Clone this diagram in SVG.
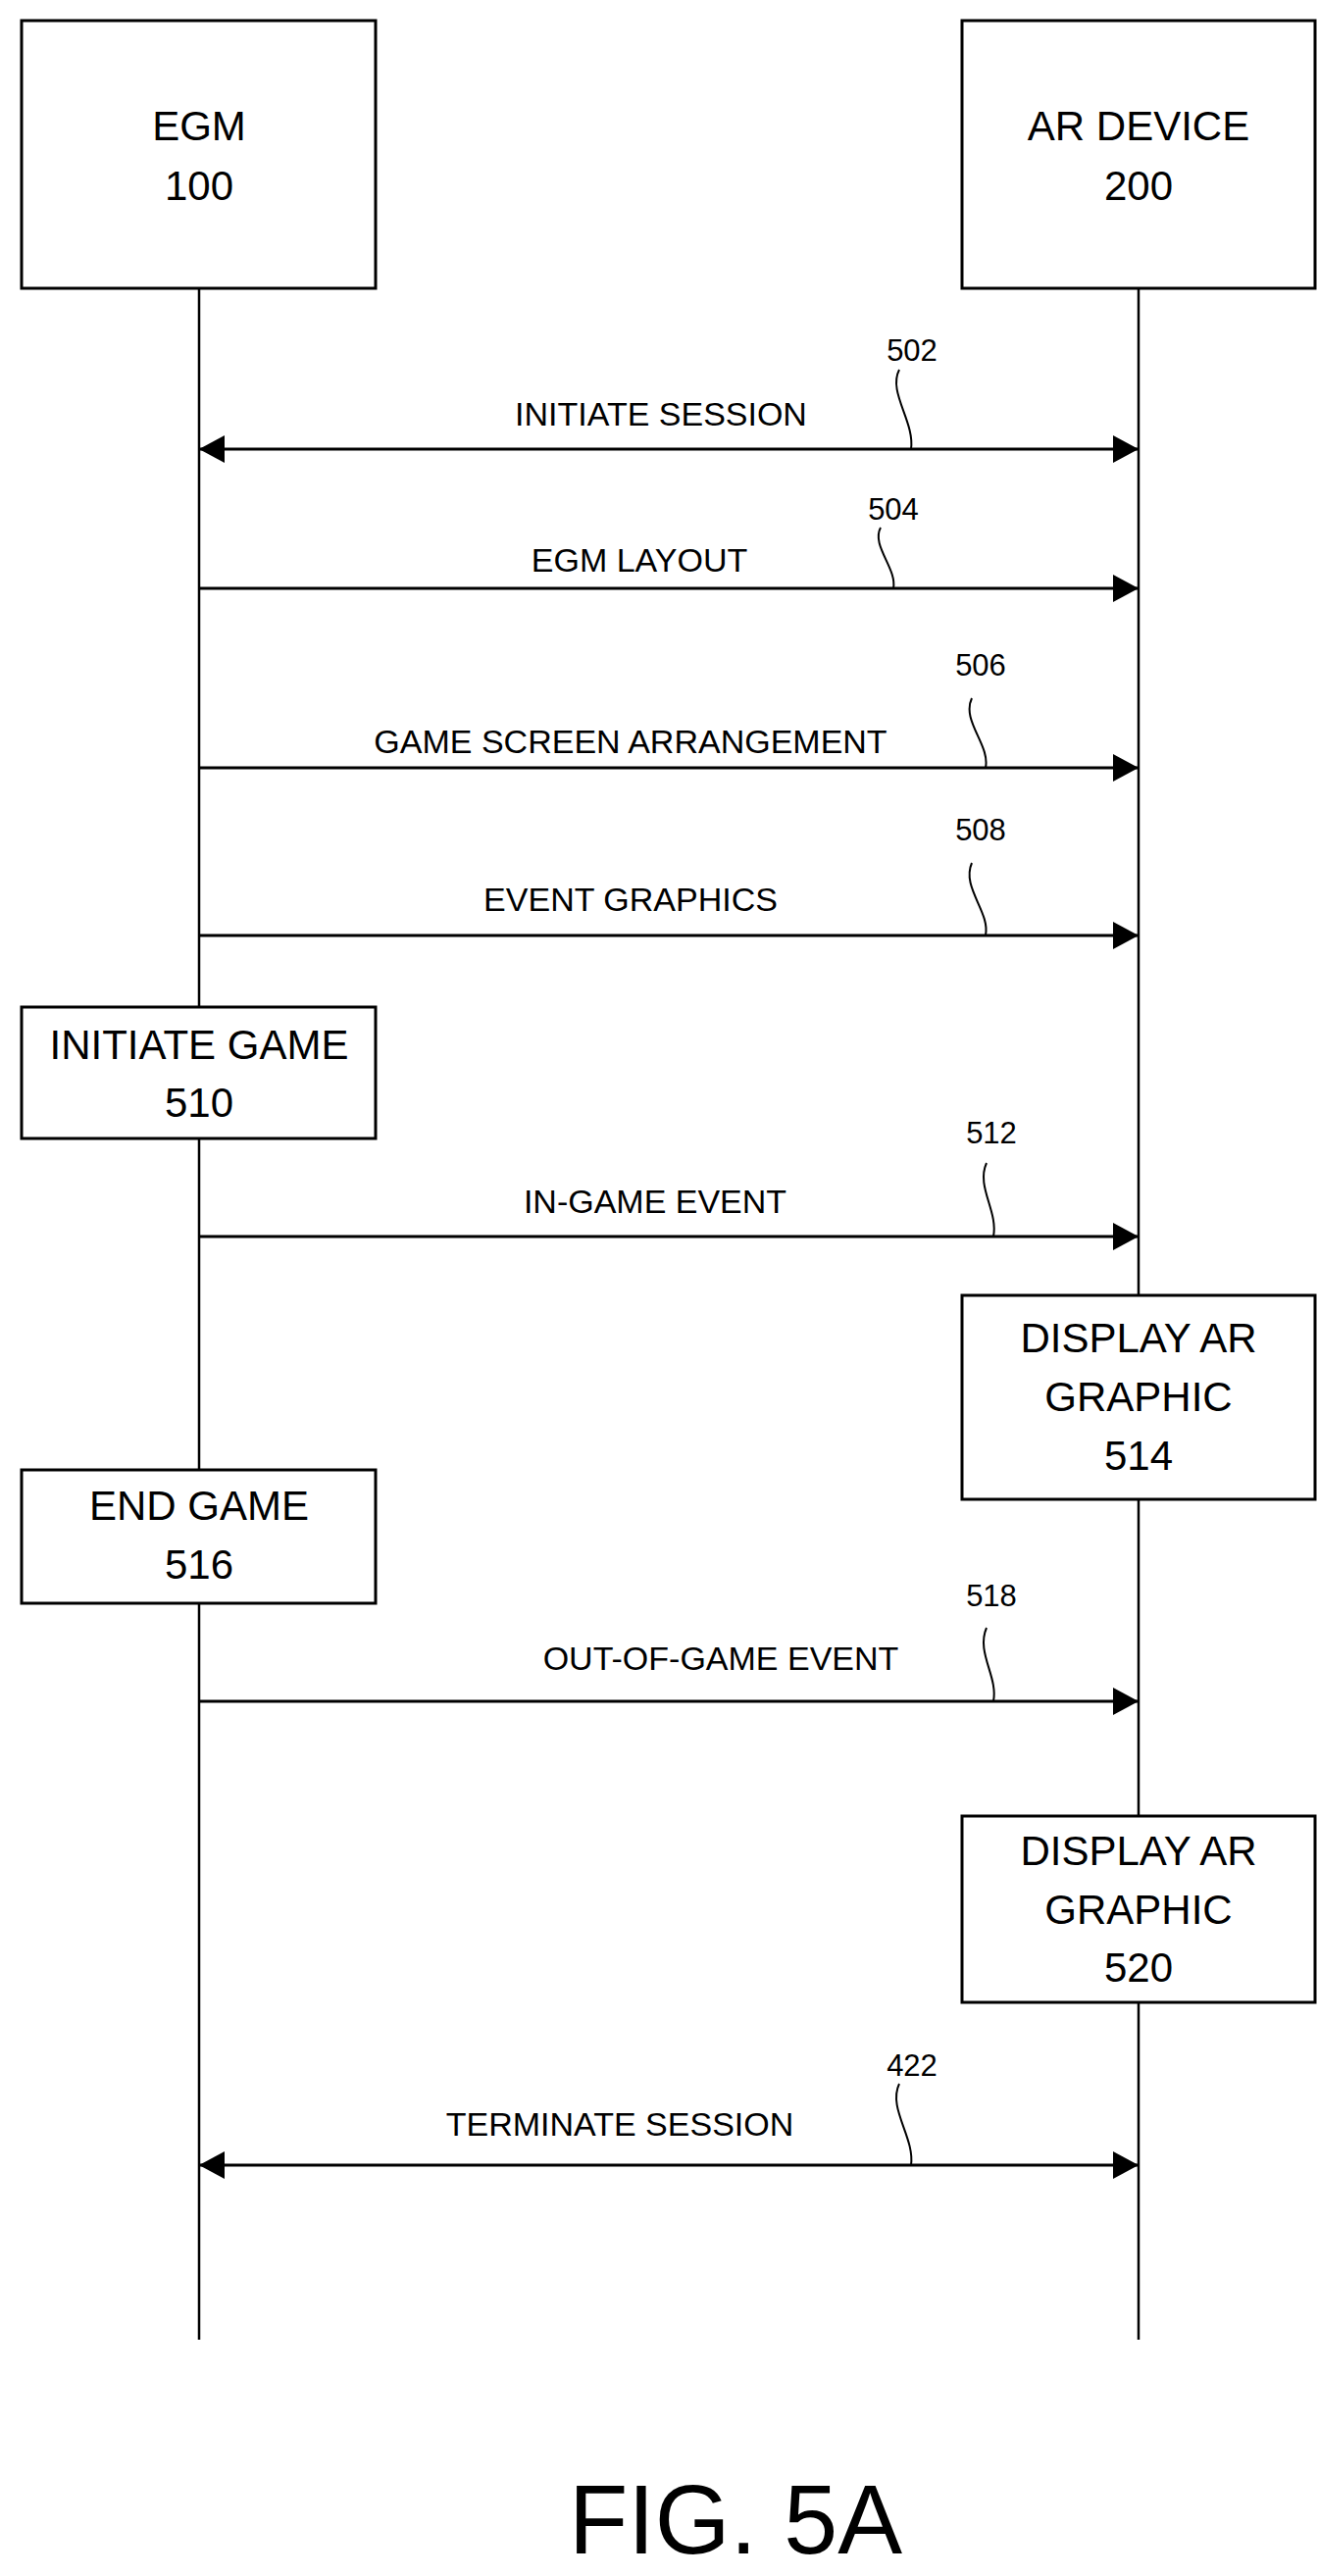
<svg xmlns="http://www.w3.org/2000/svg" width="1344" height="2627" viewBox="0 0 1344 2627">
<style>
rect{fill:#fff;stroke:#000;stroke-width:3}
.l{stroke:#000;stroke-width:2.5;fill:none}
.a{stroke:#000;stroke-width:3;fill:none}
.q{stroke:#000;stroke-width:2;fill:none}
text{font-family:"Liberation Sans",Arial,sans-serif;fill:#000;text-anchor:middle}
.b{font-size:42px}
.m{font-size:34px}
.n{font-size:31px}
</style>
<defs>
<marker id="h" markerWidth="28" markerHeight="28" refX="26" refY="14" orient="auto-start-reverse" markerUnits="userSpaceOnUse"><path d="M0,0L26,14L0,28Z" fill="#000"/></marker>
</defs>
<g id="lifelines">
<line class="l" x1="203" y1="294" x2="203" y2="2386"/>
<line class="l" x1="1161" y1="294" x2="1161" y2="2386"/>
</g>
<g id="egm"><rect x="22" y="21" width="361" height="273"/><text class="b" x="203" y="143">EGM</text><text class="b" x="203" y="204">100</text></g>
<g id="ar"><rect x="981" y="21" width="360" height="273"/><text class="b" x="1161" y="143">AR DEVICE</text><text class="b" x="1161" y="204">200</text></g>
<g id="n510"><rect x="22" y="1027" width="361" height="134"/><text class="b" x="203" y="1080">INITIATE GAME</text><text class="b" x="203" y="1139">510</text></g>
<g id="n514"><rect x="981" y="1321" width="360" height="208"/><text class="b" x="1161" y="1379">DISPLAY AR</text><text class="b" x="1161" y="1439">GRAPHIC</text><text class="b" x="1161" y="1499">514</text></g>
<g id="n516"><rect x="22" y="1499" width="361" height="136"/><text class="b" x="203" y="1550">END GAME</text><text class="b" x="203" y="1610">516</text></g>
<g id="n520"><rect x="981" y="1852" width="360" height="190"/><text class="b" x="1161" y="1902">DISPLAY AR</text><text class="b" x="1161" y="1962">GRAPHIC</text><text class="b" x="1161" y="2021">520</text></g>
<g id="connectors">
<line class="a" x1="203" y1="458" x2="1161" y2="458" marker-start="url(#h)" marker-end="url(#h)"/>
<text class="m" x="674" y="434">INITIATE SESSION</text><text class="n" x="930" y="368">502</text>
<path class="q" d="M917,377 C905,400 933,430 929,458"/>
<line class="a" x1="203" y1="600" x2="1161" y2="600" marker-end="url(#h)"/>
<text class="m" x="652" y="583">EGM LAYOUT</text><text class="n" x="911" y="530">504</text>
<path class="q" d="M898,538 C888,556 915,580 911,600"/>
<line class="a" x1="203" y1="783" x2="1161" y2="783" marker-end="url(#h)"/>
<text class="m" x="643" y="768">GAME SCREEN ARRANGEMENT</text><text class="n" x="1000" y="689">506</text>
<path class="q" d="M991,712 C980,735 1010,760 1005,783"/>
<line class="a" x1="203" y1="954" x2="1161" y2="954" marker-end="url(#h)"/>
<text class="m" x="643" y="929">EVENT GRAPHICS</text><text class="n" x="1000" y="857">508</text>
<path class="q" d="M991,880 C980,905 1010,930 1005,954"/>
<line class="a" x1="203" y1="1261" x2="1161" y2="1261" marker-end="url(#h)"/>
<text class="m" x="668" y="1237">IN-GAME EVENT</text><text class="n" x="1011" y="1166">512</text>
<path class="q" d="M1006,1186 C995,1210 1018,1235 1013,1261"/>
<line class="a" x1="203" y1="1735" x2="1161" y2="1735" marker-end="url(#h)"/>
<text class="m" x="735" y="1703">OUT-OF-GAME EVENT</text><text class="n" x="1011" y="1638">518</text>
<path class="q" d="M1006,1660 C995,1685 1018,1710 1013,1735"/>
<line class="a" x1="203" y1="2208" x2="1161" y2="2208" marker-start="url(#h)" marker-end="url(#h)"/>
<text class="m" x="632" y="2178">TERMINATE SESSION</text><text class="n" x="930" y="2117">422</text>
<path class="q" d="M917,2125 C905,2150 933,2180 929,2208"/>
</g>
<text x="750" y="2604" font-size="100" textLength="340" lengthAdjust="spacingAndGlyphs">FIG. 5A</text>
</svg>
